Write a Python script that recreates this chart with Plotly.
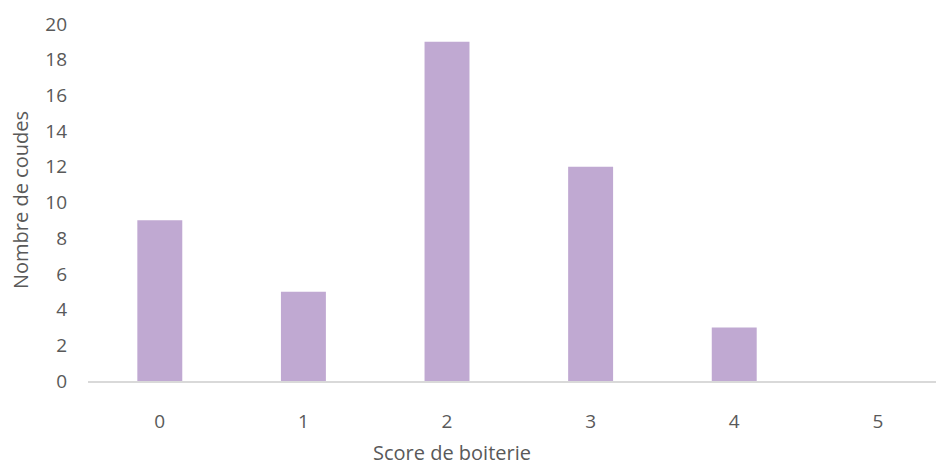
import plotly.graph_objects as go

scores = ["0", "1", "2", "3", "4", "5"]
counts = [9, 5, 19, 12, 3, 0]
y_ticks = [0, 2, 4, 6, 8, 10, 12, 14, 16, 18, 20]

FONT = "Open Sans"
GRAY = "#595959"
W, H = 937, 466
ML, MR, MT, MB = 88, 1, 24, 85
PW, PH = W - ML - MR, H - MT - MB

fig = go.Figure(
    go.Bar(
        x=list(range(len(scores))),
        y=counts,
        width=0.313,
        marker=dict(color="#C0A9D2", line=dict(width=0)),
    )
)

fig.update_layout(
    width=W,
    height=H,
    margin=dict(l=ML, r=MR, t=MT, b=MB, autoexpand=False),
    paper_bgcolor="white",
    plot_bgcolor="white",
    showlegend=False,
    font=dict(family=FONT, color=GRAY, size=19),
    annotations=[
        dict(text="Score de boiterie", xref="paper", yref="paper",
             x=(452 - ML) / PW, y=-(452 - (MT + PH)) / PH,
             showarrow=False, xanchor="center", yanchor="middle",
             font=dict(size=20, color=GRAY)),
        dict(text="Nombre de coudes", xref="paper", yref="paper",
             x=(20 - ML) / PW, y=1 - (200 - MT) / PH, textangle=-90,
             showarrow=False, xanchor="center", yanchor="middle",
             font=dict(size=20, color=GRAY)),
    ],
)

fig.update_xaxes(
    range=[-0.5, 5.405],
    tickvals=list(range(len(scores))),
    ticktext=scores,
    showgrid=False,
    zeroline=False,
    showline=True,
    linecolor="#D9D9D9",
    linewidth=2,
    ticks="",
    ticklabelstandoff=22,
    automargin=False,
    tickfont=dict(size=19, color=GRAY),
)

fig.update_yaxes(
    range=[0, 20],
    tickvals=y_ticks,
    showgrid=False,
    zeroline=False,
    showline=False,
    ticks="",
    ticklabelstandoff=20,
    automargin=False,
    tickfont=dict(size=19, color=GRAY),
)

fig.write_html(
    "out.html",
    config={"displayModeBar": False},
    post_script="document.body.style.margin='0';",
)
